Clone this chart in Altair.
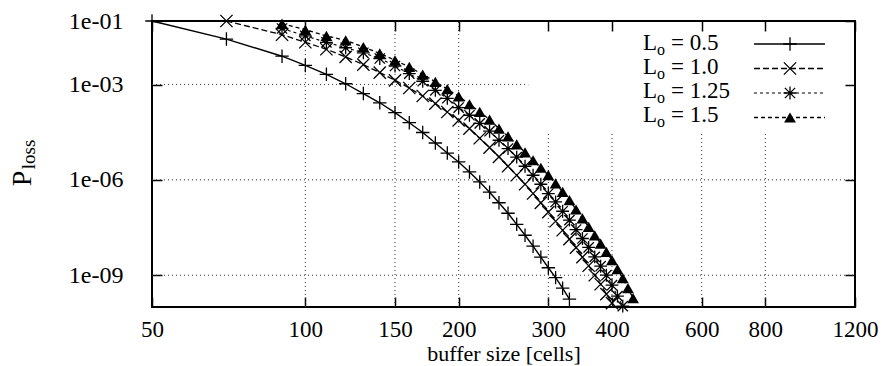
import altair as alt
import pandas as pd

FONT = "Liberation Serif"

# ---------------- data ----------------
labels = ["0.5", "1.0", "1.25", "1.5"]

cells_05 = [50, 70, 90, 100, 110, 120, 130, 140, 150, 160, 170, 180, 190, 200,
            210, 220, 230, 240, 250, 260, 270, 280, 290, 300, 310, 320, 330]
ploss_05 = [1.0e-1, 2.7e-2, 7.8e-3, 4.0e-3, 2.1e-3, 1.06e-3, 5.2e-4, 2.67e-4,
            1.31e-4, 6.3e-5, 3.1e-5, 1.45e-5, 7.0e-6, 3.67e-6, 1.78e-6, 8.6e-7,
            4.1e-7, 1.91e-7, 8.9e-8, 4.0e-8, 1.81e-8, 8.2e-9, 3.7e-9, 1.72e-9,
            8.4e-10, 3.9e-10, 1.76e-10]

cells_10 = [70, 90, 100, 110, 120, 130, 140, 150, 160, 170, 180, 190, 200, 210,
            220, 230, 240, 250, 260, 270, 280, 290, 300, 310, 320, 330, 340, 350,
            360, 370, 380, 390, 400]
ploss_10 = [1.0e-1, 3.7e-2, 2.14e-2, 1.29e-2, 7.4e-3, 4.25e-3, 2.38e-3, 1.36e-3,
            7.8e-4, 4.37e-4, 2.52e-4, 1.37e-4, 7.5e-5, 4.12e-5, 2.04e-5, 1.04e-5,
            5.3e-6, 2.69e-6, 1.40e-6, 7.3e-7, 3.72e-7, 1.90e-7, 9.7e-8, 5.0e-8,
            2.6e-8, 1.36e-8, 7.35e-9, 3.69e-9, 1.99e-9, 1.0e-9, 5.2e-10, 2.53e-10,
            1.32e-10]

cells_125 = [90, 100, 110, 120, 130, 140, 150, 160, 170, 180, 190, 200, 210, 220,
             230, 240, 250, 260, 270, 280, 290, 300, 310, 320, 330, 340, 350, 360,
             370, 380, 390, 400, 410, 420]
ploss_125 = [5.8e-2, 3.4e-2, 2.14e-2, 1.44e-2, 1.0e-2, 6.6e-3, 3.84e-3, 2.21e-3,
             1.27e-3, 6.6e-4, 3.7e-4, 1.89e-4, 1.08e-4, 6.0e-5, 3.4e-5, 1.77e-5,
             9.7e-6, 5.2e-6, 2.69e-6, 1.40e-6, 7.3e-7, 3.72e-7, 2.02e-7, 1.03e-7,
             5.4e-8, 2.74e-8, 1.43e-8, 7.5e-9, 3.77e-9, 1.92e-9, 1.0e-9, 4.85e-10,
             2.19e-10, 1.06e-10]

cells_15 = [90, 100, 110, 120, 130, 140, 150, 160, 170, 180, 190, 200, 210, 220,
            230, 240, 250, 260, 270, 280, 290, 300, 310, 320, 330, 340, 350, 360,
            370, 380, 390, 400, 410, 420, 430, 440]
ploss_15 = [8.2e-2, 5.3e-2, 3.4e-2, 2.47e-2, 1.52e-2, 9.6e-3, 5.8e-3, 3.57e-3,
            2.06e-3, 1.22e-3, 7.2e-4, 4.28e-4, 2.40e-4, 1.37e-4, 7.9e-5, 4.12e-5,
            2.36e-5, 1.32e-5, 7.4e-6, 4.15e-6, 2.41e-6, 1.40e-6, 7.7e-7, 4.18e-7,
            2.29e-7, 1.17e-7, 6.1e-8, 3.31e-8, 1.81e-8, 9.9e-9, 5.4e-9, 2.97e-9,
            1.55e-9, 8.1e-10, 3.9e-10, 1.89e-10]

x_ticks = [50, 100, 150, 200, 300, 400, 600, 800, 1200]
y_ticks = [1e-1, 1e-3, 1e-6, 1e-9]
x_domain = [50, 1200]
y_domain = [1e-10, 1e-1]

# dotted grid; the key box hides its upper-right part
grid_v_full = [100, 150, 200]
grid_v_short = [300, 400, 600, 800]
grid_v_short_top = 2.9e-5
grid_h_full = [1e-6, 1e-9]
grid_h_short = [1e-3]
grid_h_short_end = 274

x_title = "buffer size [cells]"
y_title_main = "P"
y_title_sub = "loss"
key_main = "L"
key_sub = "o"

# ---------------- chart ----------------
W, H = 703, 286
xs = alt.Scale(type="log", domain=x_domain, nice=False)
ys = alt.Scale(type="log", domain=y_domain, nice=False)


def X(field, axis=None):
    return alt.X(field, type="quantitative", scale=xs, axis=axis)


def Y(field, axis=None):
    return alt.Y(field, type="quantitative", scale=ys, axis=axis)


layers = []

gv = pd.DataFrame({
    "x": grid_v_full + grid_v_short,
    "y1": [y_domain[0]] * (len(grid_v_full) + len(grid_v_short)),
    "y2": [y_domain[1]] * len(grid_v_full) + [grid_v_short_top] * len(grid_v_short),
})
layers.append(alt.Chart(gv).mark_rule(color="#333333", strokeWidth=1, strokeDash=[1, 3]).encode(
    x=X("x"), y=Y("y1"), y2="y2"))

gh = pd.DataFrame({
    "y": grid_h_full + grid_h_short,
    "x1": [x_domain[0]] * (len(grid_h_full) + len(grid_h_short)),
    "x2": [x_domain[1]] * len(grid_h_full) + [grid_h_short_end] * len(grid_h_short),
})
layers.append(alt.Chart(gh).mark_rule(color="#333333", strokeWidth=1, strokeDash=[1, 3]).encode(
    y=Y("y"), x=X("x1"), x2="x2"))

# axes (inward ticks via negative offset)
axis_df = pd.DataFrame({"x": [100], "y": [1e-3]})
common = dict(domain=False, grid=False, tickColor="black", tickWidth=1.5, tickSize=10, offset=-10,
              labelFont=FONT, labelColor="black")
axis_main = alt.Chart(axis_df).mark_point(opacity=0).encode(
    x=X("x", alt.Axis(orient="bottom", values=x_ticks, format="d", labelPadding=11,
                      labelFontSize=23, labelFlush=False, labelOverlap=False,
                      title=x_title, titleFont=FONT, titleFontSize=22, titleFontWeight="normal",
                      titleColor="black", titlePadding=2, **common)),
    y=Y("y", alt.Axis(orient="left", values=y_ticks, labelFontSize=24,
                      labelExpr="'1e-0' + round(-log(datum.value)/LN10)",
                      labelPadding=29, title=None, **common)),
)
axis_mirror = alt.Chart(axis_df).mark_point(opacity=0).encode(
    x=X("x", alt.Axis(orient="top", values=x_ticks, labels=False, title=None, **common)),
    y=Y("y", alt.Axis(orient="right", values=y_ticks, labels=False, title=None, **common)),
)
layers += [axis_main, axis_mirror]

# y title "P" with subscript "loss", drawn as two rotated axis titles
blank = dict(domain=False, grid=False, ticks=False, labels=False, offset=0,
             titleFont=FONT, titleFontWeight="normal", titleColor="black",
             titleAngle=270, titleAlign="center", titleBaseline="middle")
title_p = alt.Chart(axis_df).mark_point(opacity=0).encode(
    y=Y("y", alt.Axis(orient="left", title=y_title_main, titleFontSize=28,
                      titleX=-130, titleY=157, **blank)))
title_sub = alt.Chart(axis_df).mark_point(opacity=0).encode(
    y=Y("y", alt.Axis(orient="left", title=y_title_sub, titleFontSize=19,
                      titleX=-124, titleY=133, **blank)))
layers += [title_p, title_sub]

PLUS = "M-1,0L1,0M0,-1L0,1"
CROSS = "M-1,-1L1,1M-1,1L1,-1"
STAR = "M-1,0L1,0M0,-1L0,1M-0.8,-0.8L0.8,0.8M-0.8,0.8L0.8,-0.8"

series = [
    (cells_05, ploss_05, PLUS, 180, False, None, 1.4),
    (cells_10, ploss_10, CROSS, 150, False, [6, 3], 1.3),
    (cells_125, ploss_125, STAR, 165, False, [3, 3], 1.1),
    (cells_15, ploss_15, "triangle-up", 140, True, [4, 3], 1.3),
]

for i, (cx, py, shape, size, filled, dash, lw) in enumerate(series):
    df = pd.DataFrame({"cells": cx, "ploss": py})
    lkw = dict(color="black", strokeWidth=lw)
    if dash is not None:
        lkw["strokeDash"] = dash
    layers.append(alt.Chart(df).mark_line(**lkw).encode(x=X("cells"), y=Y("ploss")))
    pkw = dict(shape=shape, size=size, filled=filled, color="black", opacity=1)
    if not filled:
        pkw["strokeWidth"] = 1.3
    layers.append(alt.Chart(df).mark_point(**pkw).encode(x=X("cells"), y=Y("ploss")))

    # key entry
    base_y = 29 + 24 * i
    line_y = 23 + 24.5 * i
    layers.append(alt.Chart(pd.DataFrame({"t": [key_main]})).mark_text(
        font=FONT, fontSize=23, align="left", baseline="alphabetic", color="black").encode(
        text="t:N", x=alt.value(491), y=alt.value(base_y)))
    layers.append(alt.Chart(pd.DataFrame({"t": [key_sub]})).mark_text(
        font=FONT, fontSize=16, align="left", baseline="alphabetic", color="black").encode(
        text="t:N", x=alt.value(505), y=alt.value(base_y + 5)))
    layers.append(alt.Chart(pd.DataFrame({"t": ["= " + labels[i]]})).mark_text(
        font=FONT, fontSize=23, align="left", baseline="alphabetic", color="black").encode(
        text="t:N", x=alt.value(519), y=alt.value(base_y)))
    layers.append(alt.Chart(pd.DataFrame({"t": [labels[i]]})).mark_rule(**lkw).encode(
        x=alt.value(602), x2=alt.value(673), y=alt.value(line_y)))
    layers.append(alt.Chart(pd.DataFrame({"t": [labels[i]]})).mark_point(**pkw).encode(
        x=alt.value(638), y=alt.value(line_y)))

chart = alt.layer(*layers).properties(
    width=W, height=H,
    padding={"left": 152, "top": 21, "right": 27, "bottom": 59},
    autosize=alt.AutoSizeParams(type="none"),
    background="white",
).resolve_scale(x="shared", y="shared").resolve_axis(
    x="independent", y="independent"
).configure_view(stroke="black", strokeWidth=2)

chart.save("out.html", embed_options={"renderer": "svg", "actions": False})
